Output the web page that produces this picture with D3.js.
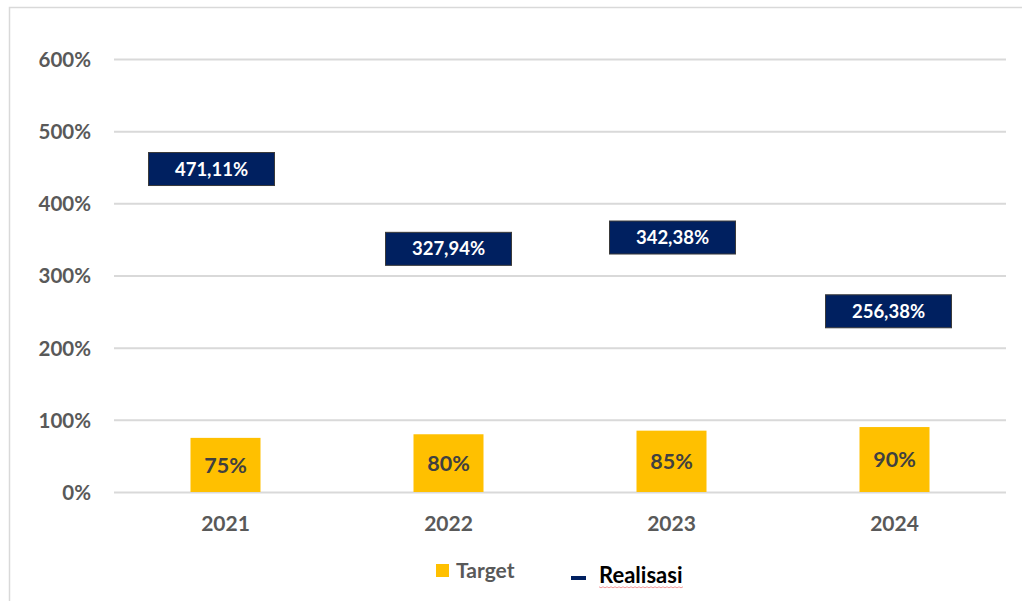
<!DOCTYPE html>
<html>
<head>
<meta charset="utf-8">
<script src="https://cdn.jsdelivr.net/npm/d3@7"></script>
<style>
  body { margin: 0; background: #fff; }
  text { font-family: Lato, "Open Sans", sans-serif; font-weight: bold; }
</style>
</head>
<body>
<div id="chart"></div>
<script>
var years = ["2021", "2022", "2023", "2024"];
var target = [75, 80, 85, 90];
var realisasi = [471.11, 327.94, 342.38, 256.38];
var targetLabels = ["75%", "80%", "85%", "90%"];
var realisasiLabels = ["471,11%", "327,94%", "342,38%", "256,38%"];
var yTicks = [0, 100, 200, 300, 400, 500, 600];
// manual nudges of the realisasi label boxes (px)
var labelNudge = [[-14, 17], [0, -6.5], [1, -7.4], [-6, 4.3]];

var W = 1022, H = 601;
var margin = {top: 59, right: 16, bottom: 109, left: 114},
    width = W - margin.left - margin.right,
    height = H - margin.top - margin.bottom;

var svg = d3.select("#chart")
    .append("svg")
    .attr("width", W)
    .attr("height", H);

// outer chart frame
svg.append("path")
    .attr("d", "M9.5,601 V7.5 H1022")
    .attr("fill", "none")
    .attr("stroke", "#d9d9d9")
    .attr("stroke-width", 1.5);

var g = svg.append("g")
    .attr("transform", "translate(" + margin.left + "," + margin.top + ")");

var x = d3.scaleBand()
    .domain(years)
    .range([0, width]);

var y = d3.scaleLinear()
    .domain([0, 600])
    .range([height, 0]);

// y axis + gridlines
var yAxis = g.append("g")
    .call(d3.axisLeft(y).tickValues(yTicks).tickSize(-width)
      .tickFormat(function(d) { return d + "%"; }));
yAxis.select(".domain").remove();
yAxis.selectAll(".tick line").attr("stroke", "#d9d9d9").attr("stroke-width", 2);
yAxis.selectAll(".tick text")
    .attr("x", -23)
    .attr("dy", "0.36em")
    .attr("fill", "#595959")
    .style("font-size", "20.5px");

// x axis labels
var xAxis = g.append("g")
    .attr("transform", "translate(0," + height + ")")
    .call(d3.axisBottom(x).tickSize(0));
xAxis.select(".domain").remove();
xAxis.selectAll(".tick text")
    .attr("dy", "1.7em")
    .attr("fill", "#595959")
    .style("font-size", "21px");

// target bars
var barW = 70;
g.selectAll("rect.bar")
    .data(target)
    .enter().append("rect")
    .attr("class", "bar")
    .attr("x", function(d, i) { return x(years[i]) + x.bandwidth() / 2 - barW / 2; })
    .attr("y", function(d) { return y(d); })
    .attr("width", barW)
    .attr("height", function(d) { return height - y(d); })
    .attr("fill", "#ffc000");

g.selectAll("text.blab")
    .data(target)
    .enter().append("text")
    .attr("class", "blab")
    .attr("x", function(d, i) { return x(years[i]) + x.bandwidth() / 2; })
    .attr("y", function(d) { return (y(d) + height) / 2; })
    .attr("dy", "0.36em")
    .attr("text-anchor", "middle")
    .attr("fill", "#404040")
    .style("font-size", "21.5px")
    .text(function(d, i) { return targetLabels[i]; });

// realisasi values shown as boxed labels
var boxW = 126, boxH = 33;
var pts = g.selectAll("g.real")
    .data(realisasi)
    .enter().append("g")
    .attr("class", "real");

pts.append("rect")
    .attr("x", function(d, i) { return x(years[i]) + x.bandwidth() / 2 + labelNudge[i][0] - boxW / 2; })
    .attr("y", function(d, i) { return y(d) + labelNudge[i][1] - boxH / 2; })
    .attr("width", boxW)
    .attr("height", boxH)
    .attr("fill", "#002060")
    .attr("stroke", "#3a3a3a")
    .attr("stroke-width", 1);

pts.append("text")
    .attr("x", function(d, i) { return x(years[i]) + x.bandwidth() / 2 + labelNudge[i][0]; })
    .attr("y", function(d, i) { return y(d) + labelNudge[i][1]; })
    .attr("dy", "0.36em")
    .attr("text-anchor", "middle")
    .attr("fill", "#fff")
    .style("font-size", "18.5px")
    .text(function(d, i) { return realisasiLabels[i]; });

// legend
var leg = svg.append("g");
leg.append("rect")
    .attr("x", 436).attr("y", 564)
    .attr("width", 13).attr("height", 13)
    .attr("fill", "#ffc000");
leg.append("text")
    .attr("x", 456).attr("y", 578)
    .attr("fill", "#595959")
    .style("font-size", "21px")
    .text("Target");
leg.append("rect")
    .attr("x", 571).attr("y", 576)
    .attr("width", 15).attr("height", 4)
    .attr("fill", "#002060");
leg.append("text")
    .attr("x", 599).attr("y", 583)
    .attr("fill", "#000")
    .style("font-size", "22px")
    .text("Realisasi");
// spellcheck squiggle under "Realisasi"
var sq = d3.range(599, 685, 2).map(function(v, i) { return [v, 587 + (i % 2 ? 0.8 : -0.2)]; });
leg.append("path")
    .attr("d", d3.line()(sq))
    .attr("fill", "none")
    .attr("stroke", "#f08080")
    .attr("stroke-width", 0.8);
</script>
</body>
</html>
